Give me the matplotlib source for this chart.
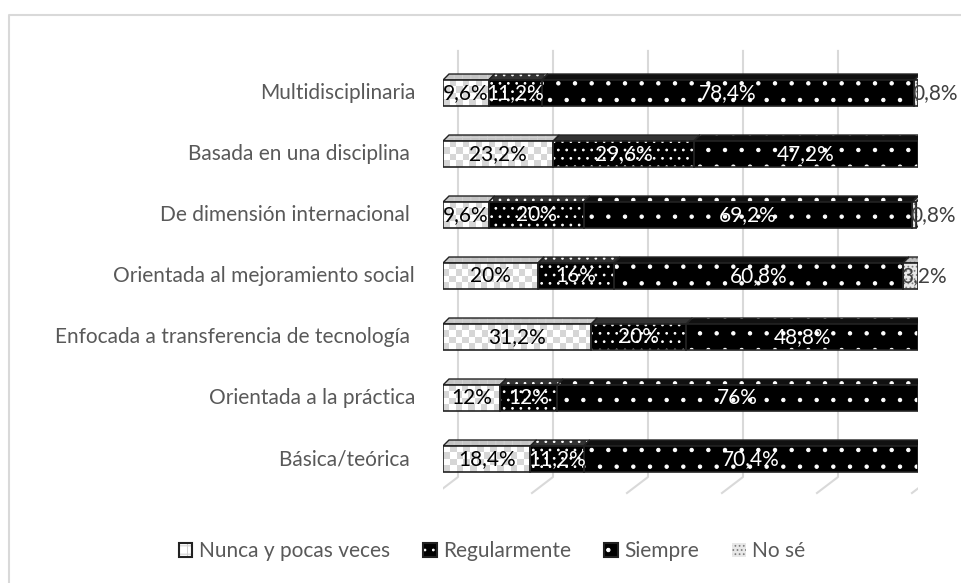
import matplotlib
matplotlib.use("Agg")
import matplotlib.pyplot as plt
import numpy as np
from matplotlib.patches import Rectangle, Polygon, Patch
from matplotlib.lines import Line2D
from matplotlib.colors import ListedColormap
from matplotlib.legend_handler import HandlerTuple

plt.rcParams['font.family'] = ['Lato', 'DejaVu Sans']
plt.rcParams['hatch.linewidth'] = 0.75

# data (top to bottom as in the chart)
categorias = ["Multidisciplinaria", "Basada en una disciplina ", "De dimensión internacional ",
              "Orientada al mejoramiento social", "Enfocada a transferencia de tecnología ",
              "Orientada a la práctica", "Básica/teórica "]
nunca = [9.6, 23.2, 9.6, 20, 31.2, 12, 18.4]
regular = [11.2, 29.6, 20, 16, 20, 12, 11.2]
siempre = [78.4, 47.2, 69.2, 60.8, 48.8, 76, 70.4]
no_se = [0.8, 0, 0.8, 3.2, 0, 0, 0]
series_names = ["Nunca y pocas veces", "Regularmente", "Siempre", "No sé"]
grid_ticks = [0, 20, 40, 60, 80, 100]

# styles: face, hatch, hatch colour, top-face colour, label colour
styles = [
    dict(face="#ffffff", hatch="++", hc="#d0d0d0", top="#c4c4c4", txt="black"),
    dict(face="#000000", hatch="..", hc="#ffffff", top="#333333", txt="white"),
    dict(face="#000000", hatch=".", hc="#ffffff", top="#111111", txt="white"),
    dict(face="#e8e8e8", hatch="....", hc="#7f7f7f", top="#bfbfbf", txt="#404040"),
]
checker_cmap = ListedColormap(["#ffffff", "#d6d6d6"])

FS = 15
W, H = 961, 583
fig = plt.figure(figsize=(W / 100, H / 100), dpi=100)
ax = fig.add_axes([443 / W, 83 / H, 475 / W, 460 / H])
XL, YL = (0, 100), (-0.672, 6.869)
ax.axis("off")

px_x = 100 / 475.0   # data units per pixel
px_y = 1 / 61.0
bh = 26 * px_y
ddx, ddy = 6 * px_x, 6 * px_y

# back wall / floor grid lines
for v in grid_ticks:
    xb = v + 15 * px_x
    ax.add_line(Line2D([xb, xb, xb - 21 * px_x], [6.69, -0.295, -0.295 - 16 * px_y],
                       color="#d9d9d9", lw=1.5, zorder=0))

text_color = "#595959"
ypos = list(range(len(categorias) - 1, -1, -1))
all_series = [nunca, regular, siempre, no_se]

for i, y in enumerate(ypos):
    left = 0
    segs = []
    for s, vals in enumerate(all_series):
        v = vals[i]
        if v > 0:
            segs.append((s, left, v))
        left += v
    yb, yt = y - bh / 2, y + bh / 2
    # side face of last segment
    s, x0, v = segs[-1]
    st = styles[s]
    x1 = x0 + v
    side = [(x1, yb), (x1 + ddx, yb + ddy), (x1 + ddx, yt + ddy), (x1, yt)]
    ax.add_patch(Polygon(side, closed=True, facecolor=st["face"], edgecolor=st["hc"],
                         hatch=st["hatch"], lw=0, zorder=2))
    ax.add_patch(Polygon(side, closed=True, fill=False, edgecolor="#222222", lw=1, zorder=2.1))
    for s, x0, v in segs:
        st = styles[s]
        x1 = x0 + v
        top = [(x0, yt), (x1, yt), (x1 + ddx, yt + ddy), (x0 + ddx, yt + ddy)]
        ax.add_patch(Polygon(top, closed=True, facecolor=st["top"], edgecolor=st["hc"],
                             hatch=st["hatch"], lw=0, zorder=3))
        ax.add_patch(Polygon(top, closed=True, fill=False, edgecolor="#222222", lw=1, zorder=3.1))
    for s, x0, v in segs:
        st = styles[s]
        if s == 0:
            # checkerboard texture for "Nunca y pocas veces"
            rect = Rectangle((x0, yb), v, bh, facecolor="white", lw=0, zorder=4)
            ax.add_patch(rect)
            ncol = max(1, int(round(v / px_x / 6.5)))
            rr, cc = np.indices((4, ncol))
            im = ax.imshow((rr + cc) % 2, extent=(x0, x0 + v, yb, yt), cmap=checker_cmap,
                           interpolation="nearest", aspect="auto", zorder=4.05)
            im.set_clip_path(rect)
        else:
            ax.add_patch(Rectangle((x0, yb), v, bh, facecolor=st["face"], edgecolor=st["hc"],
                                   hatch=st["hatch"], lw=0, zorder=4))
        ax.add_patch(Rectangle((x0, yb), v, bh, fill=False, edgecolor="#222222", lw=1.2, zorder=4.1))
    for s, x0, v in segs:
        st = styles[s]
        lab = ("%g" % v).replace(".", ",") + "%"
        if s == 3:
            ax.text(x0 - 0.4, y, lab, ha="left", va="center", color=st["txt"],
                    fontsize=FS, zorder=6)
        else:
            ax.text(x0 + v / 2, y, lab, ha="center", va="center", color=st["txt"],
                    fontsize=FS, zorder=6)
    ax.text(-28 * px_x, y, categorias[i], ha="right", va="center", color=text_color,
            fontsize=FS)

ax.set_xlim(*XL)
ax.set_ylim(*YL)

# legend
handles = []
for st in styles:
    fill = Patch(facecolor=st["face"], edgecolor=st["hc"], hatch=st["hatch"], lw=0)
    edge = Patch(fill=False, edgecolor="#222222" if st["face"] != "#e8e8e8" else "none", lw=1.5)
    handles.append((fill, edge))
leg = fig.legend(handles, series_names, loc="center", bbox_to_anchor=(492 / W, 1 - 551 / H),
                 ncol=4, frameon=False, handlelength=0.65, handleheight=0.65,
                 handletextpad=0.3, columnspacing=1.6, fontsize=FS,
                 handler_map={tuple: HandlerTuple(ndivide=1, pad=0)})
for t in leg.get_texts():
    t.set_color(text_color)

# outer chart border (left and top visible)
fig.add_artist(Line2D([8.5 / W, 8.5 / W, 1.0], [0, 1 - 14.5 / H, 1 - 14.5 / H],
                      transform=fig.transFigure, color="#d9d9d9", lw=1.5))

fig.savefig("out.png", dpi=100)
